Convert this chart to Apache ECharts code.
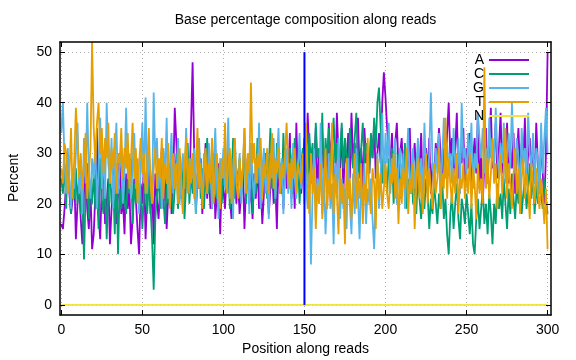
<!DOCTYPE html>
<html><head><meta charset="utf-8">
<script src="https://cdn.jsdelivr.net/npm/echarts@6/dist/echarts.min.js"></script>
<style>html,body{margin:0;padding:0;background:#fff}#c{width:576px;height:360px}</style>
</head><body><div id="c"></div>
<script>
const titleText = "Base percentage composition along reads";
const xName = "Position along reads";
const yName = "Percent";
const seriesNames = ["A","C","G","T","N"];
const xTicks = [0,50,100,150,200,250,300];
const yTicks = [0,10,20,30,40,50];
const markerX = 150;
const markerRange = [0,50];

const aValues = [
16,15,19,24,28,22,18,21,26,13,
20,24,17,12,22,27,19,15,23,11,
14,22,35,18,13,24,29,16,20,25,
12,19,24,28,16,22,30,18,21,14,
26,19,23,12,17,25,21,15,10,24,
20,28,13,22,30,18,24,12,26,21,
17,23,31,19,26,15,22,28,18,24,
39,32,24,21,27,19,23,30,26,22,
35,48,30,20,26,23,29,18,25,32,
21,27,19,24,30,17,22,28,14,25,
23,19,26,30,21,17,24,28,20,25,
18,22,27,15,24,29,20,23,17,26,
21,28,19,24,16,22,30,25,18,23,
27,20,24,15,29,22,26,19,31,23,
25,34,21,28,19,36,24,30,22,27,
33,26,38,29,24,31,27,35,22,30,
28,34,25,31,20,36,29,33,26,24,
38,30,27,35,22,31,28,34,25,38,
29,32,24,37,27,31,23,35,28,30,
26,33,29,36,25,30,34,28,40,46,
41,35,31,28,34,25,32,36,27,30,
33,26,31,24,29,35,22,28,32,25,
30,27,34,23,29,31,26,33,22,28,
25,32,28,35,30,24,31,27,34,40,
29,33,26,31,38,25,30,28,35,24,
31,27,34,22,29,33,26,38,23,30,
20,28,35,24,32,39,27,30,36,25,
31,38,26,33,29,36,24,31,27,34,
22,29,35,26,32,28,37,24,30,33,
27,31,24,36,28,22,33,26,20,30,
50];

const cValues = [
25,22,28,19,30,24,18,26,21,27,
20,25,18,23,9,22,28,17,24,20,
26,19,23,15,29,21,18,25,13,22,
27,20,24,14,28,10,23,19,26,21,
18,25,22,29,16,24,20,27,19,23,
15,22,26,18,24,20,13,3,17,22,
25,19,28,21,16,24,20,27,22,18,
23,30,19,25,21,28,17,24,32,20,
26,22,29,18,24,31,21,27,19,25,
33,22,28,19,25,30,21,27,24,20,
26,31,22,28,19,25,33,21,27,24,
29,22,26,32,20,27,23,30,18,25,
22,33,26,19,28,24,30,21,27,35,
23,29,20,32,25,28,22,34,26,30,
24,31,27,22,33,25,29,20,28,31,
26,30,23,34,28,32,25,36,29,31,
27,38,24,33,29,35,26,31,37,28,
32,25,30,36,27,33,29,24,35,30,
27,33,38,29,25,31,36,28,32,30,
26,34,29,37,31,40,43,35,24,30,
27,22,29,25,31,20,26,23,30,21,
27,24,32,19,25,22,28,20,24,18,
26,21,17,23,19,25,22,15,21,18,
24,20,16,22,19,25,17,21,14,10,
18,22,15,20,24,17,13,21,19,16,
22,18,14,20,12,10,17,21,15,19,
23,16,20,14,22,18,12,20,16,24,
19,22,17,25,20,15,23,18,26,21,
17,24,20,27,18,22,25,19,23,28,
21,26,18,24,20,27,22,19,25,21,
18];

const gValues = [
34,40,28,22,31,25,19,27,23,30,
36,22,28,18,33,24,40,26,21,29,
25,32,19,27,37,23,30,21,40,28,
24,33,19,29,36,22,27,31,20,26,
39,25,30,21,28,34,23,29,18,27,
36,24,41,22,30,26,20,42,28,33,
23,29,19,31,25,37,21,27,34,22,
28,24,33,20,26,30,23,35,27,22,
29,25,31,18,27,33,24,21,30,26,
22,32,27,19,28,35,24,17,29,25,
31,23,27,37,21,29,17,33,26,24,
30,20,27,35,23,28,18,32,25,21,
29,24,36,19,27,31,22,26,17,30,
25,33,21,28,35,23,29,18,26,31,
22,28,19,32,25,21,27,34,23,29,
30,24,19,26,8,22,31,17,25,20,
36,18,27,14,22,30,19,24,12,28,
21,33,17,25,19,23,15,29,20,14,
26,18,31,22,13,24,19,28,16,23,
20,25,17,11,22,30,19,26,38,24,
34,28,36,22,29,25,33,20,27,31,
24,30,19,28,35,22,26,31,23,27,
33,25,29,21,36,27,24,30,42,28,
23,31,26,34,22,29,37,25,32,27,
30,24,35,28,26,33,22,40,29,31,
25,34,28,36,23,30,27,38,33,29,
35,26,31,24,37,29,33,27,39,30,
25,32,28,36,24,30,34,27,40,31,
26,33,29,22,35,28,31,25,38,30,
27,34,24,31,29,22,36,26,33,39,
30];

const tValues = [
27,24,32,30,22,26,35,21,29,39,
33,25,30,23,28,34,21,26,31,52,
35,28,36,40,30,35,26,33,29,36,
24,31,27,34,22,30,28,35,25,31,
27,34,23,29,36,25,31,20,28,33,
26,30,22,28,35,24,20,27,31,23,
29,25,33,21,28,24,32,19,27,30,
23,28,20,31,25,18,27,33,22,29,
24,30,21,27,35,23,28,19,26,31,
22,28,24,33,20,27,30,23,19,29,
25,36,22,28,31,20,26,33,24,21,
29,23,27,35,22,30,26,44,28,32,
24,30,27,33,21,28,25,31,22,27,
34,23,29,26,31,22,28,25,30,36,
27,23,29,25,31,22,28,26,24,30,
20,36,25,18,30,22,27,15,24,20,
28,17,23,31,19,25,21,36,18,26,
22,14,27,20,24,12,29,21,25,17,
23,30,19,26,21,28,16,24,20,33,
22,18,27,24,15,29,21,26,19,23,
28,22,19,26,24,30,21,27,16,25,
20,27,23,31,18,25,22,28,15,24,
29,21,26,18,24,30,20,27,23,19,
28,22,25,31,19,26,23,37,21,29,
24,20,27,22,30,18,25,23,28,21,
26,22,30,19,27,24,17,28,22,25,
20,47,23,29,21,26,33,24,28,19,
25,30,22,27,35,21,28,24,19,26,
31,22,27,18,25,29,21,26,23,17,
28,24,20,27,22,19,25,21,16,23,
11];

const nValues = [
0,0,0,0,0,0,0,0,0,0,0,0,0,0,0,0,0,0,0,0,0,0,0,0,0,0,0,0,0,0,
0,0,0,0,0,0,0,0,0,0,0,0,0,0,0,0,0,0,0,0,0,0,0,0,0,0,0,0,0,0,
0,0,0,0,0,0,0,0,0,0,0,0,0,0,0,0,0,0,0,0,0,0,0,0,0,0,0,0,0,0,
0,0,0,0,0,0,0,0,0,0,0,0,0,0,0,0,0,0,0,0,0,0,0,0,0,0,0,0,0,0,
0,0,0,0,0,0,0,0,0,0,0,0,0,0,0,0,0,0,0,0,0,0,0,0,0,0,0,0,0,0,
0,0,0,0,0,0,0,0,0,0,0,0,0,0,0,0,0,0,0,0,0,0,0,0,0,0,0,0,0,0,
0,0,0,0,0,0,0,0,0,0,0,0,0,0,0,0,0,0,0,0,0,0,0,0,0,0,0,0,0,0,
0,0,0,0,0,0,0,0,0,0,0,0,0,0,0,0,0,0,0,0,0,0,0,0,0,0,0,0,0,0,
0,0,0,0,0,0,0,0,0,0,0,0,0,0,0,0,0,0,0,0,0,0,0,0,0,0,0,0,0,0,
0,0,0,0,0,0,0,0,0,0,0,0,0,0,0,0,0,0,0,0,0,0,0,0,0,0,0,0,0,0,
0];

const colors = ["#9400d3","#009e73","#56b4e9","#e69f00","#f0e442"];
const FONT = "Liberation Sans";

const chart = echarts.init(document.getElementById('c'), null, {renderer:'canvas'});
const allValues = [aValues,cValues,gValues,tValues,nValues];

const gridLineStyle = {color:'#b0b0b0', type:[1,3], width:1};
const series = [{
  name:'grid', type:'line', xAxisIndex:0, yAxisIndex:0, data:[], animation:false, z:0,
  markLine:{
    silent:true, symbol:'none', animation:false, label:{show:false}, z:0,
    lineStyle:gridLineStyle,
    data: xTicks.map(v=>({xAxis:v})).concat(yTicks.map(v=>({yAxis:v})))
  }
}];
seriesNames.forEach((name,k)=>series.push({
  name, type:'line', xAxisIndex:0, yAxisIndex:0, z:3,
  data: allValues[k].map((v,i)=>[i,v]),
  showSymbol:false, symbol:'none', animation:false,
  lineStyle:{color:colors[k], width:1.8}, itemStyle:{color:colors[k]}
}));
series.push({
  name:'marker', type:'line', xAxisIndex:0, yAxisIndex:0, z:4,
  data:[[markerX,markerRange[0]],[markerX,markerRange[1]]],
  showSymbol:false, symbol:'none', animation:false,
  lineStyle:{color:'#0000ff', width:2}
});

const xMin = -0.8, xMax = 302.1, yMin = -2, yMax = 52;
const axisLineStyle = {show:true, onZero:false, lineStyle:{color:'#000', width:1.5}};

chart.setOption({
  animation:false,
  textStyle:{fontFamily:FONT},
  grid:{left:60, right:25, top:42, bottom:45, containLabel:false},
  graphic:[
    {type:'text', x:305.5, y:20, style:{text:titleText, font:'14px "Liberation Sans"', fill:'#000', align:'center', verticalAlign:'middle'}},
    {type:'text', x:305.5, y:349, style:{text:xName, font:'14px "Liberation Sans"', fill:'#000', align:'center', verticalAlign:'middle'}},
    {type:'text', x:14, y:178, rotation:Math.PI/2, style:{text:yName, font:'14px "Liberation Sans"', fill:'#000', align:'center', verticalAlign:'middle'}}
  ],
  legend:{
    data:seriesNames, orient:'vertical', right:42, top:48, align:'right', z:5,
    icon:'rect', itemWidth:40, itemHeight:2, itemGap:0,
    textStyle:{fontFamily:FONT, fontSize:14, color:'#000', lineHeight:14},
    selectedMode:false
  },
  xAxis:[
    {type:'value', position:'bottom', min:xMin, max:xMax, z:5,
     axisLine:axisLineStyle,
     axisTick:{show:true, inside:true, length:5, customValues:xTicks, lineStyle:{color:'#000', width:1}},
     axisLabel:{show:true, customValues:xTicks, margin:8, fontFamily:FONT, fontSize:14, color:'#000'},
     splitLine:{show:false}},
    {type:'value', position:'top', min:xMin, max:xMax, z:5,
     axisLine:axisLineStyle,
     axisTick:{show:true, inside:true, length:5, customValues:xTicks, lineStyle:{color:'#000', width:1}},
     axisLabel:{show:false}, splitLine:{show:false}}
  ],
  yAxis:[
    {type:'value', position:'left', min:yMin, max:yMax, z:5,
     axisLine:axisLineStyle,
     axisTick:{show:true, inside:true, length:5, customValues:yTicks, lineStyle:{color:'#000', width:1}},
     axisLabel:{show:true, customValues:yTicks, margin:8, fontFamily:FONT, fontSize:14, color:'#000'},
     splitLine:{show:false}},
    {type:'value', position:'right', min:yMin, max:yMax, z:5,
     axisLine:axisLineStyle,
     axisTick:{show:true, inside:true, length:5, customValues:yTicks, lineStyle:{color:'#000', width:1}},
     axisLabel:{show:false}, splitLine:{show:false}}
  ],
  series
});
</script>
</body></html>
